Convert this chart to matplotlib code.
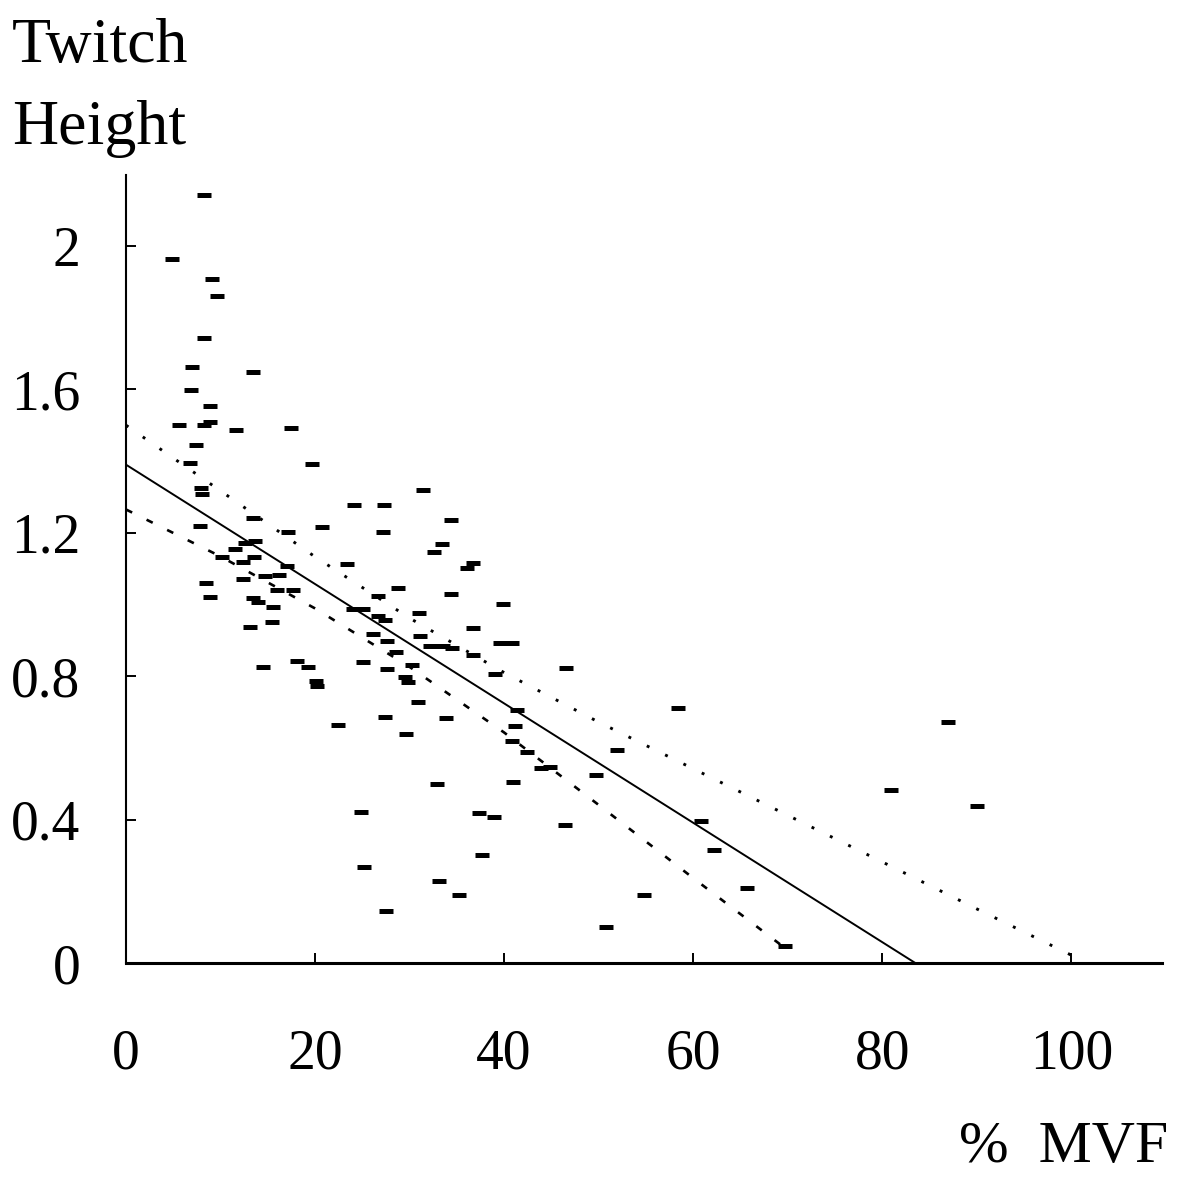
import numpy as np
import matplotlib
import matplotlib.pyplot as plt

matplotlib.use('agg')

# twitch height against % of maximal voluntary force
mvf = [8.25, 4.87, 9.10, 9.63, 8.25, 6.98, 13.44, 6.88, 8.89, 5.61,
       8.25, 8.89, 11.64, 17.46, 7.41, 6.77, 19.68, 7.94, 8.04, 31.43,
       24.13, 27.30, 13.44, 34.39, 7.83, 20.74, 27.20, 17.14, 33.44, 12.59,
       13.65, 11.53, 32.59, 10.16, 12.38, 13.54, 17.04, 23.39, 36.72, 36.08,
       8.47, 12.38, 14.71, 16.19, 28.78, 15.98, 17.67, 34.39, 26.67, 8.89,
       13.44, 13.97, 15.56, 24.02, 25.08, 31.01, 26.67, 27.41, 39.89, 15.45,
       13.12, 36.72, 26.14, 31.11, 27.62, 39.58, 40.85, 32.17, 33.54, 34.50,
       28.57, 36.72, 25.08, 14.50, 18.10, 19.26, 30.26, 27.62, 46.56, 39.05,
       29.52, 29.84, 20.11, 20.21, 30.90, 41.38, 58.41, 27.41, 33.86, 22.43,
       41.16, 29.63, 40.85, 51.96, 42.43, 43.92, 44.87, 49.74, 40.95, 32.91,
       24.87, 37.35, 38.94, 46.46, 60.85, 62.22, 37.67, 25.19, 33.12, 65.71,
       54.81, 35.24, 50.79, 27.51, 69.74, 86.98, 80.95, 90.05]
twitch = [2.142, 1.964, 1.908, 1.861, 1.743, 1.662, 1.649, 1.598, 1.554, 1.501,
          1.501, 1.509, 1.487, 1.492, 1.445, 1.395, 1.392, 1.325, 1.308, 1.319,
          1.278, 1.278, 1.241, 1.236, 1.219, 1.216, 1.202, 1.202, 1.169, 1.172,
          1.177, 1.155, 1.146, 1.133, 1.119, 1.133, 1.107, 1.113, 1.116, 1.102,
          1.060, 1.071, 1.079, 1.082, 1.046, 1.040, 1.040, 1.029, 1.024, 1.021,
          1.018, 1.007, 0.993, 0.987, 0.987, 0.976, 0.968, 0.957, 1.001, 0.951,
          0.937, 0.934, 0.918, 0.912, 0.898, 0.893, 0.893, 0.884, 0.884, 0.879,
          0.867, 0.859, 0.840, 0.826, 0.842, 0.826, 0.831, 0.820, 0.823, 0.806,
          0.798, 0.784, 0.787, 0.773, 0.728, 0.706, 0.711, 0.686, 0.683, 0.664,
          0.661, 0.639, 0.619, 0.594, 0.589, 0.544, 0.547, 0.524, 0.505, 0.499,
          0.421, 0.418, 0.407, 0.385, 0.396, 0.315, 0.301, 0.268, 0.229, 0.209,
          0.190, 0.190, 0.100, 0.145, 0.047, 0.672, 0.483, 0.438]

# regression line and its band
fit_x = [0, 83.5]
fit_y = [1.39, 0.0]
upper_x = [0, 10, 20, 30, 40, 50, 60, 70, 80, 90, 100]
upper_y = [1.50, 1.317, 1.133, 0.962, 0.810, 0.672, 0.542, 0.412, 0.282, 0.151, 0.022]
lower_x = [0, 10, 20, 30, 40, 50, 60, 70]
lower_y = [1.265, 1.134, 0.989, 0.826, 0.643, 0.441, 0.237, 0.036]

xticks = [0, 20, 40, 60, 80, 100]
yticks = [0, 0.4, 0.8, 1.2, 1.6, 2.0]
ytick_labels = ['0', '0.4', '0.8', '1.2', '1.6', '2']

plt.rcParams['font.family'] = ['Liberation Serif', 'DejaVu Serif']

W, H = 1178, 1177
fig = plt.figure(figsize=(W / 100, H / 100), dpi=100)
ax = fig.add_axes([126 / W, 1 - 963 / H, 1036 / W, 788 / H])

ax.plot(mvf, twitch, linestyle='none', marker='_', markersize=10.5,
        markeredgewidth=3.6, color='black')
ax.plot(fit_x, fit_y, color='black', linewidth=1.4)
ax.plot(upper_x, upper_y, color='black', linewidth=2.1,
        linestyle=(0, (1.0, 6.0)))
ax.plot(lower_x, lower_y, color='black', linewidth=1.9,
        linestyle=(0, (2.6, 6.1)))

ax.set_xlim(0, 109.6)
ax.set_ylim(0, 2.198)
ax.set_xticks(xticks)
ax.set_xticklabels([str(t) for t in xticks])
ax.set_yticks(yticks)
ax.set_yticklabels(ytick_labels)
ax.tick_params(axis='both', direction='in', length=7, width=1.4,
               labelsize=40, color='black')
ax.tick_params(axis='x', pad=47)
ax.tick_params(axis='y', pad=33)

for side in ['top', 'right']:
    ax.spines[side].set_visible(False)
ax.spines['left'].set_linewidth(1.5)
ax.spines['bottom'].set_linewidth(2.2)

# axis titles, placed by baseline
fig.text(12 / W, 1 - 62 / H, 'Twitch', fontsize=46, ha='left', va='baseline')
fig.text(12 / W, 1 - 144 / H, 'Height', fontsize=46, ha='left', va='baseline')
fig.text(1168 / W, 1 - 1162 / H, '%  MVF', fontsize=43, ha='right',
         va='baseline')

fig.savefig('out.png', dpi=100, facecolor='white')
